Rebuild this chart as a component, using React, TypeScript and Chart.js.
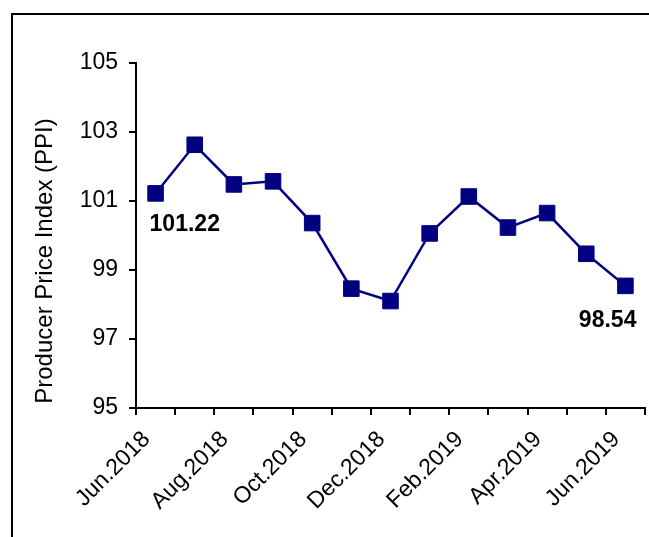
import React, { useEffect, useRef } from "react";
import { Chart, registerables } from "chart.js";

Chart.register(...registerables);

const categories = [
  "Jun.2018", "Jul.2018", "Aug.2018", "Sep.2018", "Oct.2018", "Nov.2018", "Dec.2018",
  "Jan.2019", "Feb.2019", "Mar.2019", "Apr.2019", "May.2019", "Jun.2019",
];
const ppiValues = [101.22, 102.63, 101.48, 101.57, 100.36, 98.46, 98.1, 100.06, 101.13, 100.23, 100.65, 99.47, 98.54];
const yTickValues = [95, 97, 99, 101, 103, 105];
const yTitle = "Producer Price Index (PPI)";
const annotated = [
  { index: 0, text: "101.22", align: "left", dx: -6, dy: 31 },
  { index: 12, text: "98.54", align: "right", dx: 11, dy: 35 },
];

const FONT = "'Liberation Sans', Arial, sans-serif";
const NAVY = "#000080";

export default function App() {
  const ref = useRef<HTMLCanvasElement | null>(null);

  useEffect(() => {
    if (!ref.current) return;
    const labelPlugin = {
      id: "annot",
      afterDatasetsDraw(chart: any) {
        const ctx = chart.ctx;
        const meta = chart.getDatasetMeta(0);
        ctx.save();
        ctx.fillStyle = "#000";
        ctx.font = `bold 23px ${FONT}`;
        ctx.textBaseline = "middle";
        for (const a of annotated) {
          const pt = meta.data[a.index];
          ctx.textAlign = a.align;
          ctx.fillText(a.text, pt.x + a.dx, pt.y + a.dy);
        }
        ctx.restore();
      },
      afterDraw(chart: any) {
        const ctx = chart.ctx;
        ctx.save();
        ctx.strokeStyle = "#000";
        ctx.lineWidth = 2;
        ctx.beginPath();
        ctx.moveTo(12, 537);
        ctx.lineTo(12, 14);
        ctx.lineTo(649, 14);
        ctx.stroke();
        ctx.translate(45, 261);
        ctx.rotate(-Math.PI / 2);
        ctx.font = `24px ${FONT}`;
        ctx.fillStyle = "#000";
        ctx.textAlign = "center";
        ctx.textBaseline = "middle";
        ctx.fillText(yTitle, 0, 0);
        ctx.restore();
      },
    };

    const chart = new Chart(ref.current, {
      type: "line",
      data: {
        labels: categories,
        datasets: [
          {
            data: ppiValues,
            borderColor: NAVY,
            backgroundColor: NAVY,
            borderWidth: 2.5,
            pointStyle: "rect",
            pointRadius: 11,
            pointBorderWidth: 1,
            pointBackgroundColor: NAVY,
            pointBorderColor: NAVY,
            tension: 0,
          },
        ],
      },
      options: {
        animation: false,
        responsive: false,
        devicePixelRatio: 1,
        layout: { autoPadding: false, padding: { top: 63, right: 4, left: 0, bottom: 0 } },
        plugins: { legend: { display: false }, tooltip: { enabled: false } },
        scales: {
          x: {
            type: "category",
            offset: true,
            grid: {
              offset: true,
              drawOnChartArea: false,
              drawTicks: true,
              tickLength: 7,
              color: "#000",
              lineWidth: 2,
            },
            border: { display: true, color: "#000", width: 2 },
            ticks: {
              autoSkip: false,
              maxRotation: 45,
              minRotation: 45,
              color: "#000",
              font: { family: FONT, size: 23 },
              padding: 11,
              labelOffset: -9,
              callback: (_v: any, i: number) => (i % 2 === 0 ? categories[i] : ""),
            },
            afterFit: (s: any) => {
              s.height = 129;
              s.paddingLeft = 0;
              s.paddingRight = 0;
            },
          },
          y: {
            min: 95,
            max: 105,
            afterBuildTicks: (s: any) => {
              s.ticks = yTickValues.map((v) => ({ value: v }));
            },
            grid: {
              drawOnChartArea: false,
              drawTicks: true,
              tickLength: 7,
              color: "#000",
              lineWidth: 2,
            },
            border: { display: true, color: "#000", width: 2 },
            ticks: {
              color: "#000",
              font: { family: FONT, size: 23 },
              padding: 11,
            },
            afterFit: (s: any) => {
              s.width = 136;
              s.paddingTop = 0;
              s.paddingBottom = 0;
            },
          },
        },
      },
      plugins: [labelPlugin],
    } as any);
    return () => chart.destroy();
  }, []);

  return (
    <canvas
      ref={ref}
      width={649}
      height={537}
      style={{ position: "absolute", left: 0, top: 0, width: 649, height: 537, background: "#fff" }}
    />
  );
}
